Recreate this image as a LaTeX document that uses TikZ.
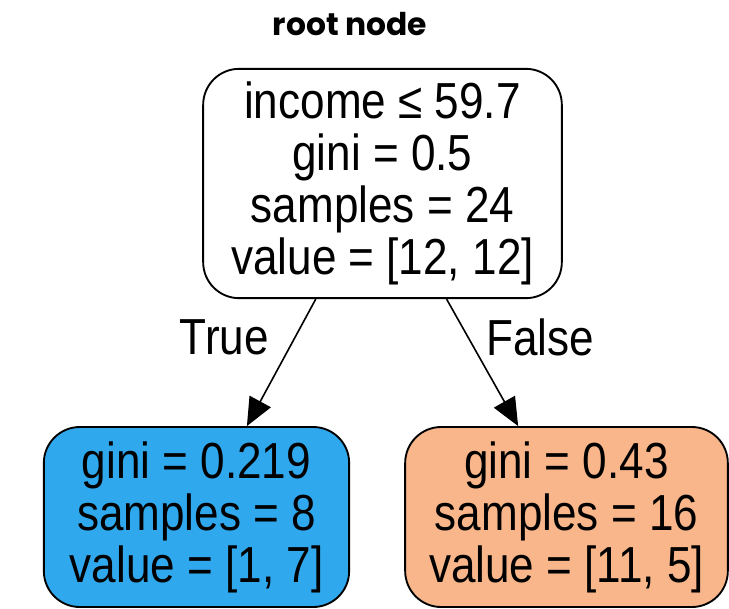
\documentclass[tikz,border=0pt]{standalone}
\usepackage{fontspec}
\setmainfont[FakeStretch=0.87]{Liberation Sans}
\newfontfamily\titlefont{Poppins}
\usetikzlibrary{arrows.meta}
\definecolor{leafblue}{HTML}{30A8EE}
\definecolor{leaforange}{HTML}{F8B68A}
\newcommand{\treefont}{\fontsize{38}{39}\selectfont}

\begin{document}
\begin{tikzpicture}[x=0.75pt,y=-0.75pt,
  treenode/.style={draw, rounded corners=27pt, line width=1.4pt,
    align=center, font=\treefont, inner sep=0pt},
  branch/.style={-{Triangle[length=21pt,width=18pt]}, line width=1.2pt},
  branchlabel/.style={font=\treefont, inner sep=0pt}]
\useasboundingbox (0,0) rectangle (729,608);

\node[font=\titlefont\bfseries\fontsize{23.5}{26}\selectfont] (title) at (350,24) {root node};

\node[treenode, minimum width=269pt, minimum height=172pt] (root) at (382.5,183.5)
  {income ≤ 59.7\\gini = 0.5\\samples = 24\\value = [12, 12]};
\node[treenode, fill=leafblue, minimum width=229pt, minimum height=135pt] (leftleaf) at (196.5,517)
  {gini = 0.219\\samples = 8\\value = [1, 7]};
\node[treenode, fill=leaforange, minimum width=242pt, minimum height=135pt] (rightleaf) at (566.5,517)
  {gini = 0.43\\samples = 16\\value = [11, 5]};

% branches
\path[branch] (root.240) edge node[branchlabel, pos=0.3, left=19pt] {True} (leftleaf.61);
\path[branch] (root.299) edge node[branchlabel, pos=0.3, right=13pt] {False} (rightleaf.118);
\end{tikzpicture}
\end{document}
